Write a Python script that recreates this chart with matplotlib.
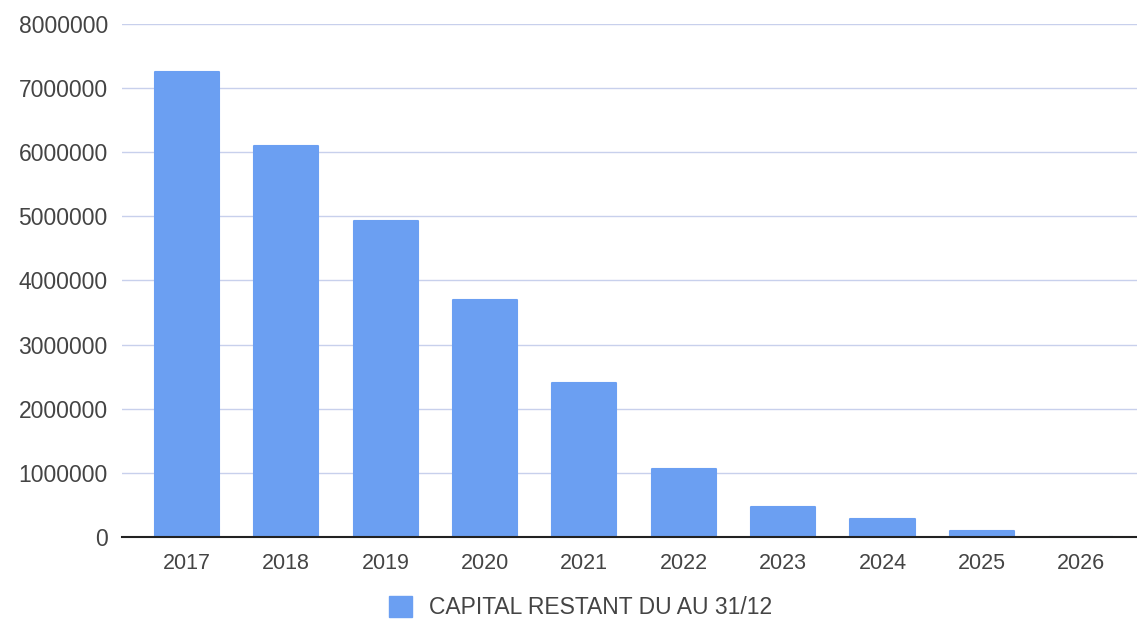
import matplotlib.pyplot as plt
from matplotlib.patches import Patch
from matplotlib.ticker import FuncFormatter

years = ['2017', '2018', '2019', '2020', '2021', '2022', '2023', '2024', '2025', '2026']
capital = [7250000, 6100000, 4920000, 3700000, 2410000, 1060000, 470000, 280000, 90000, 10000]
series_name = 'CAPITAL RESTANT DU AU 31/12'

bar_color = '#6b9ff2'
text_color = '#444444'

plt.rcParams['font.family'] = ['Liberation Sans', 'DejaVu Sans']

fig = plt.figure(figsize=(11.37, 6.24), dpi=100)
ax = fig.add_axes([0.107, 0.139, 0.893, 0.823])

x = range(len(years))
ax.bar(x, capital, width=0.645, color=bar_color, edgecolor=bar_color,
       linewidth=1.5, joinstyle='round', zorder=3)

ax.set_ylim(0, 8000000)
ax.set_yticks(range(0, 8000001, 1000000))
ax.yaxis.set_major_formatter(FuncFormatter(lambda v, p: '%d' % v))
ax.set_xlim(-0.655, 9.56)
ax.set_xticks(list(x))
ax.set_xticklabels(years)

ax.grid(axis='y', color='#c8d0ec', linewidth=1, zorder=0)
for s in ['top', 'right', 'left']:
    ax.spines[s].set_visible(False)
ax.spines['bottom'].set_color('#222222')
ax.spines['bottom'].set_linewidth(1.5)
ax.spines['bottom'].set_zorder(4)
ax.tick_params(axis='both', length=0, colors=text_color)
ax.tick_params(axis='y', pad=10, labelsize=16.5)
ax.tick_params(axis='x', pad=11, labelsize=15.5)

fig.legend(handles=[Patch(facecolor=bar_color, edgecolor=bar_color)],
           labels=[series_name], loc='center', bbox_to_anchor=(0.511, 0.026),
           frameon=False, fontsize=16.5, labelcolor=text_color,
           handlelength=1.0, handleheight=1.0, handletextpad=0.75)

fig.savefig('out.png', dpi=100, facecolor='white')
